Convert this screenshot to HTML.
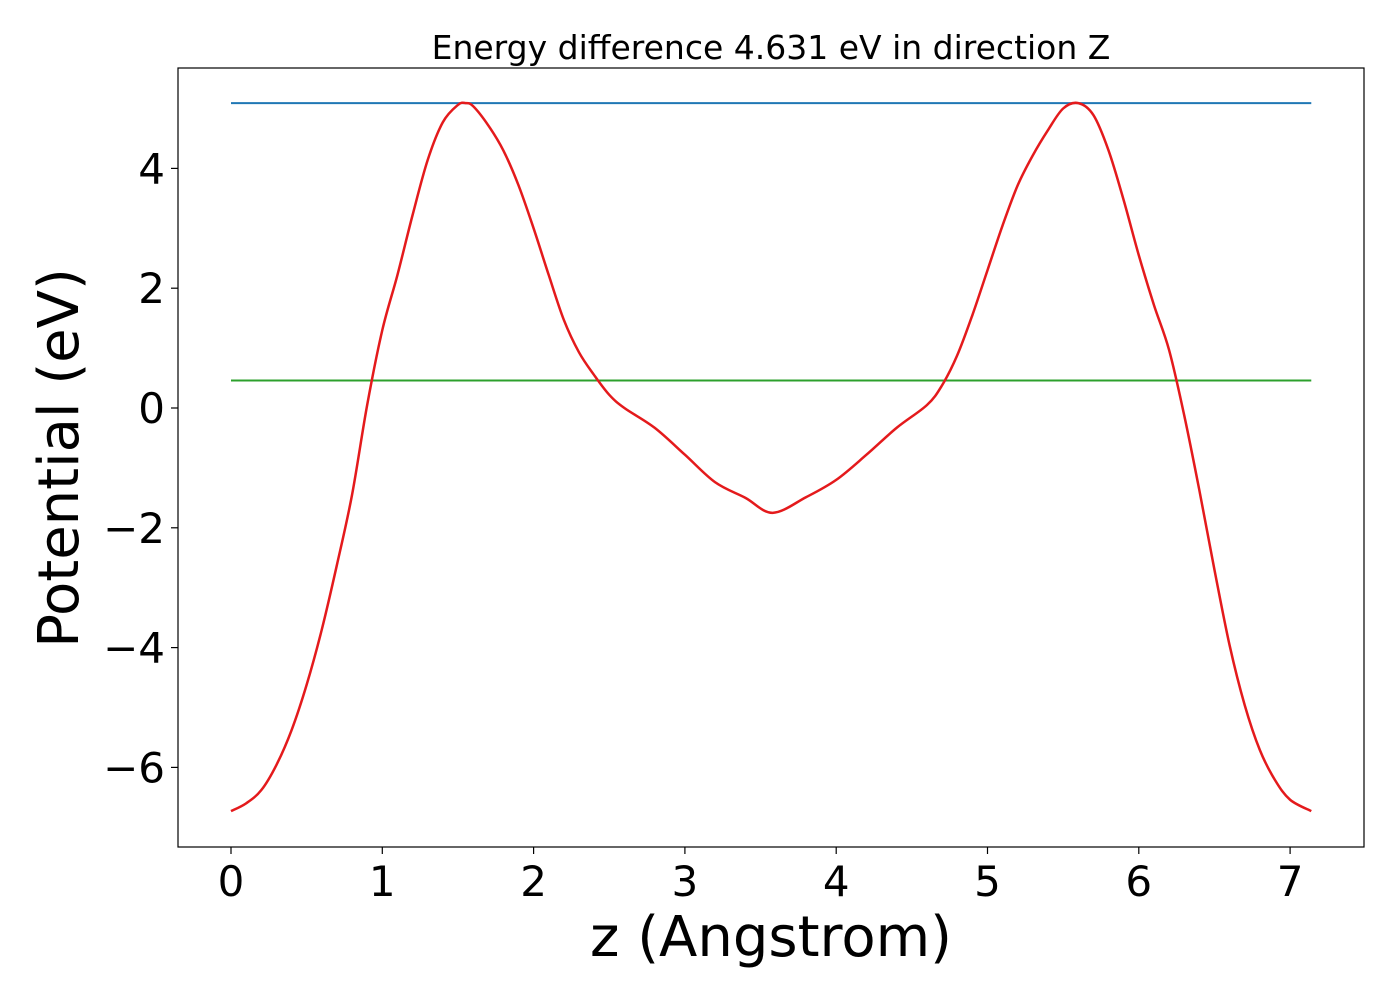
<!DOCTYPE html>
<html><head><meta charset="utf-8"><style>
body{margin:0;background:#fff;}
svg text{font-family:"DejaVu Sans","Liberation Sans",sans-serif;}
</style></head><body>
<svg id="chart" width="1400" height="1000" xmlns="http://www.w3.org/2000/svg">
<rect x="0" y="0" width="1400" height="1000" fill="#fff"/>
<text x="771" y="59" font-size="33" text-anchor="middle">Energy difference 4.631 eV in direction Z</text>
<g id="plot"></g>
<rect x="178" y="68" width="1186" height="779" fill="none" stroke="#000" stroke-width="1.2"/>
<text x="771" y="956" font-size="56" text-anchor="middle">z (Angstrom)</text>
<text transform="translate(78,458) rotate(-90)" font-size="56" text-anchor="middle">Potential (eV)</text>
</svg>
<script>
const zVals=[0,0.1,0.2,0.3,0.4,0.5,0.6,0.7,0.8,0.9,1.0,1.1,1.2,1.3,1.4,1.5,1.55,1.6,1.7,1.8,1.9,2.0,2.1,2.2,2.3,2.4,2.5,2.6,2.8,3.0,3.2,3.4,3.58,3.8,4.0,4.2,4.4,4.6,4.7,4.8,4.9,5.0,5.1,5.2,5.3,5.4,5.5,5.6,5.7,5.8,5.9,6.0,6.1,6.2,6.3,6.4,6.5,6.6,6.7,6.8,6.9,7.0,7.14];
const potVals=[-6.73,-6.6,-6.38,-5.96,-5.38,-4.62,-3.7,-2.62,-1.45,0.05,1.3,2.22,3.22,4.14,4.77,5.06,5.09,5.04,4.72,4.3,3.72,3.0,2.22,1.47,0.93,0.55,0.22,0.0,-0.33,-0.78,-1.24,-1.5,-1.75,-1.49,-1.2,-0.78,-0.33,0.05,0.38,0.88,1.55,2.3,3.05,3.72,4.22,4.64,5.0,5.09,4.89,4.3,3.47,2.55,1.72,0.97,-0.12,-1.37,-2.7,-3.96,-4.96,-5.71,-6.21,-6.54,-6.73];
const vacuumLevel=5.09, fermiLevel=0.46, zMin=0, zMax=7.14;
const xTicks=[0,1,2,3,4,5,6,7];
const yTicks=[4,2,0,-2,-4,-6];
const yTickLabels=["4","2","0","\u22122","\u22124","\u22126"];
const X=v=>231+v*151.3, Y=v=>408-v*59.9;
const NS="http://www.w3.org/2000/svg", g=document.getElementById('plot');
function mk(t,a){const e=document.createElementNS(NS,t);for(const k in a)e.setAttribute(k,a[k]);g.appendChild(e);return e;}
xTicks.forEach(t=>{
 const l=mk('line',{x1:X(t),x2:X(t),y1:847,y2:854,stroke:'#000','stroke-width':1.2});
 
 
 const tx=mk('text',{x:X(t),y:896,'font-size':42,'text-anchor':'middle'});tx.textContent=t;
 
 
});
yTicks.forEach((t,i)=>{
 const l=mk('line',{x1:171,x2:178,y1:Y(t),y2:Y(t),stroke:'#000','stroke-width':1.2});
 
 
 const tx=mk('text',{x:165,y:Y(t)+15,'font-size':42,'text-anchor':'end'});tx.textContent=yTickLabels[i];
 
 
});
const vl=mk('line',{x1:X(zMin),x2:X(zMax),y1:Y(vacuumLevel),y2:Y(vacuumLevel),stroke:'#1f77b4','stroke-width':2});


const fl=mk('line',{x1:X(zMin),x2:X(zMax),y1:Y(fermiLevel),y2:Y(fermiLevel),stroke:'#2ca02c','stroke-width':2});


const P=zVals.map((z,i)=>[X(z),Y(potVals[i])]);
let d='M'+P[0][0]+','+P[0][1];
for(let i=0;i<P.length-1;i++){
 const p0=P[Math.max(0,i-1)],p1=P[i],p2=P[i+1],p3=P[Math.min(P.length-1,i+2)];
 const c1=[p1[0]+(p2[0]-p0[0])/6,p1[1]+(p2[1]-p0[1])/6];
 const c2=[p2[0]-(p3[0]-p1[0])/6,p2[1]-(p3[1]-p1[1])/6];
 d+=`C${c1[0]},${c1[1]} ${c2[0]},${c2[1]} ${p2[0]},${p2[1]}`;
}
const c=mk('path',{d:d,fill:'none',stroke:'#e41a1c','stroke-width':2.5});


</script>
</body></html>
